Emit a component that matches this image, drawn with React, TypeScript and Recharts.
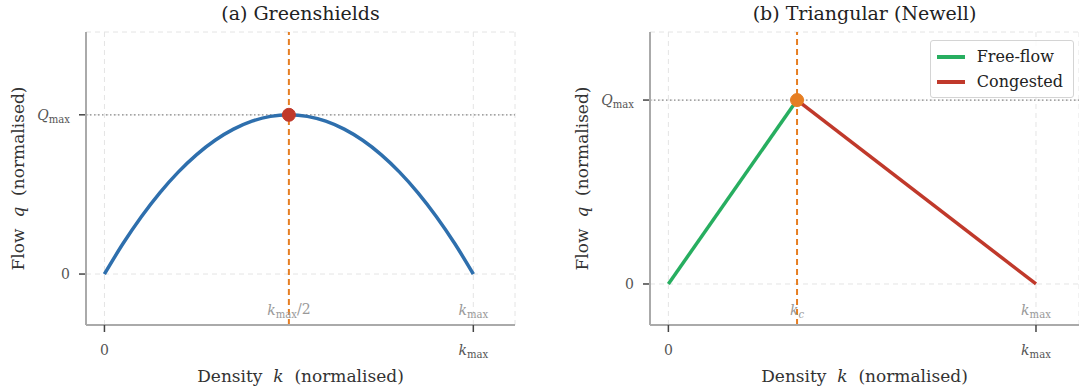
import React from 'react';
import {
  LineChart, Line, XAxis, YAxis, CartesianGrid, ReferenceLine, ReferenceDot,
} from 'recharts';

// Greenshields curve
const greenK = [0, 0.05, 0.1, 0.15, 0.2, 0.25, 0.3, 0.35, 0.4, 0.45, 0.5, 0.55, 0.6, 0.65, 0.7, 0.75, 0.8, 0.85, 0.9, 0.95, 1];
const greenQ = [0, 0.19, 0.36, 0.51, 0.64, 0.75, 0.84, 0.91, 0.96, 0.99, 1, 0.99, 0.96, 0.91, 0.84, 0.75, 0.64, 0.51, 0.36, 0.19, 0];

// Triangular (Newell) branches, panel (b)
const freeK = [0, 0.35];
const freeQ = [0, 1];
const congK = [0.35, 1];
const congQ = [1, 0];

const xTicks = [0, 1];
const yTicks = [0, 1];
const greenPeak = { k: 0.5, q: 1 };
const critical = { k: 0.35, q: 1 };
const legendItems = [
  { name: 'Free-flow', color: '#27ae60' },
  { name: 'Congested', color: '#c0392b' },
];

const greenData = greenK.map((k, i) => ({ k, q: greenQ[i] }));
const freeData = freeK.map((k, i) => ({ k, q: freeQ[i] }));
const congData = congK.map((k, i) => ({ k, q: congQ[i] }));

const SERIF = '"DejaVu Serif", serif';
const ORANGE = '#e67e22';

const Sub = ({ base, sub, subItalic = false }: { base: string; sub: string; subItalic?: boolean }) => (
  <>
    <tspan fontStyle="italic">{base}</tspan>
    <tspan fontSize="0.72em" dy="0.3em" fontStyle={subItalic ? 'italic' : 'normal'}>{sub}</tspan>
  </>
);

const XTick = (props: any) => {
  const { x, y, payload } = props;
  return (
    <g>
      <line x1={x} x2={x} y1={y - 8} y2={y - 1} stroke="#444" strokeWidth={1.5} />
      <text x={x} y={y + 22} textAnchor="middle" fontFamily={SERIF} fontSize={14} fill="#555">
        {payload.value === 0 ? '0' : <Sub base="k" sub="max" />}
      </text>
    </g>
  );
};

const YTick = (props: any) => {
  const { x, y, payload } = props;
  return (
    <g>
      <line x1={x + 1} x2={x + 7} y1={y} y2={y} stroke="#444" strokeWidth={1.5} />
      <text x={x - 8} y={y + 5} textAnchor="end" fontFamily={SERIF} fontSize={14} fill="#555">
        {payload.value === 0 ? '0' : <Sub base="Q" sub="max" />}
      </text>
    </g>
  );
};

const xLabel = ({ viewBox }: any) => (
  <text x={viewBox.x + viewBox.width / 2} y={viewBox.y + 57} textAnchor="middle" fontFamily={SERIF} fontSize={17} fill="#333">
    Density <tspan fontStyle="italic">{'\u00a0k\u00a0'}</tspan> (normalised)
  </text>
);

const yLabel = ({ viewBox }: any) => {
  const cx = viewBox.x + viewBox.width - 68;
  const cy = viewBox.y + viewBox.height / 2;
  return (
    <text x={cx} y={cy} transform={`rotate(-90 ${cx} ${cy})`} textAnchor="middle" dominantBaseline="central" fontFamily={SERIF} fontSize={17} fill="#333">
      Flow <tspan fontStyle="italic">{'\u00a0q\u00a0'}</tspan> (normalised)
    </text>
  );
};

const bottomNote = (content: React.ReactNode) => ({ viewBox }: any) => (
  <text x={viewBox.x} y={viewBox.y + viewBox.height - 10} textAnchor="middle" fontFamily={SERIF} fontSize={14} fill="#999">
    {content}
  </text>
);

const LegendBox = () => (
  <div style={{
    position: 'absolute', top: 40, right: 5,
    border: '1px solid #d4d4d4', borderRadius: 3, background: 'rgba(255,255,255,0.85)',
    padding: '3px 10px 3px 6px', fontFamily: SERIF, fontSize: 16, color: '#222', lineHeight: '25px',
  }}>
    {legendItems.map(it => (
      <div key={it.name} style={{ display: 'flex', alignItems: 'center' }}>
        <span style={{ display: 'inline-block', width: 28, height: 4, background: it.color, marginRight: 12 }} />
        {it.name}
      </div>
    ))}
  </div>
);

const Title = ({ text, left, width }: { text: string; left: number; width: number }) => (
  <div style={{
    position: 'absolute', top: 0, left, width, textAlign: 'center',
    fontFamily: SERIF, fontSize: 19, color: '#222', lineHeight: '26px',
  }}>{text}</div>
);

const axisCommon = {
  type: 'number' as const,
  axisLine: { stroke: '#aaa', strokeWidth: 2 },
  tickLine: false,
  interval: 0 as const,
};

export default function App() {
  return (
    <div style={{ position: 'absolute', left: 0, top: 0, width: 1079, height: 392, background: '#fff', overflow: 'hidden' }}>
      <Title text="(a) Greenshields" left={86} width={429} />
      <Title text="(b) Triangular (Newell)" left={650} width={429} />

      <div style={{ position: 'absolute', left: 0, top: 0 }}>
        <LineChart width={540} height={392} data={greenData} margin={{ top: 32, right: 25, bottom: 0, left: 0 }}>
          <CartesianGrid stroke="#e4e4e4" strokeDasharray="5 4" />
          <XAxis dataKey="k" {...axisCommon} domain={[-0.05, 1.113]} ticks={xTicks} height={67} tick={<XTick />} label={{ content: xLabel }} />
          <YAxis {...axisCommon} domain={[-0.32, 1.52]} ticks={yTicks} width={86} tick={<YTick />} label={{ content: yLabel }} />
          <ReferenceLine y={1} stroke="#888" strokeDasharray="1.5 2.5" strokeWidth={1.2} />
          <ReferenceLine x={1} stroke="none" label={{ content: bottomNote(<Sub base="k" sub="max" />) }} />
          <Line type="monotone" dataKey="q" stroke="#2e6fad" strokeWidth={3.5} dot={false} isAnimationActive={false} />
          <ReferenceLine x={greenPeak.k} stroke={ORANGE} strokeWidth={2} strokeDasharray="6 4"
            label={{ content: bottomNote(<><Sub base="k" sub="max" /><tspan dy="-0.3em">/2</tspan></>) }} />
          <ReferenceDot x={greenPeak.k} y={greenPeak.q} r={6.5} fill="#c0392b" stroke="#c0392b" />
        </LineChart>
      </div>

      <div style={{ position: 'absolute', left: 540, top: 0, width: 539, height: 392 }}>
        <LineChart width={539} height={392} margin={{ top: 32, right: 0, bottom: 0, left: 0 }}>
          <CartesianGrid stroke="#e4e4e4" strokeDasharray="5 4" />
          <XAxis dataKey="k" {...axisCommon} domain={[-0.05, 1.117]} ticks={xTicks} height={67} tick={<XTick />} label={{ content: xLabel }} allowDuplicatedCategory={false} />
          <YAxis {...axisCommon} domain={[-0.223, 1.37]} ticks={yTicks} width={110} tick={<YTick />} label={{ content: yLabel }} />
          <ReferenceLine y={1} stroke="#888" strokeDasharray="1.5 2.5" strokeWidth={1.2} />
          <ReferenceLine x={1} stroke="none" label={{ content: bottomNote(<Sub base="k" sub="max" />) }} />
          <Line data={freeData} type="linear" dataKey="q" name="Free-flow" stroke="#27ae60" strokeWidth={3.5} dot={false} isAnimationActive={false} />
          <Line data={congData} type="linear" dataKey="q" name="Congested" stroke="#c0392b" strokeWidth={3.5} dot={false} isAnimationActive={false} />
          <ReferenceLine x={critical.k} stroke={ORANGE} strokeWidth={2} strokeDasharray="6 4"
            label={{ content: bottomNote(<Sub base="k" sub="c" subItalic />) }} />
          <ReferenceDot x={critical.k} y={critical.q} r={6.5} fill={ORANGE} stroke={ORANGE} />
        </LineChart>
        <LegendBox />
      </div>
    </div>
  );
}
